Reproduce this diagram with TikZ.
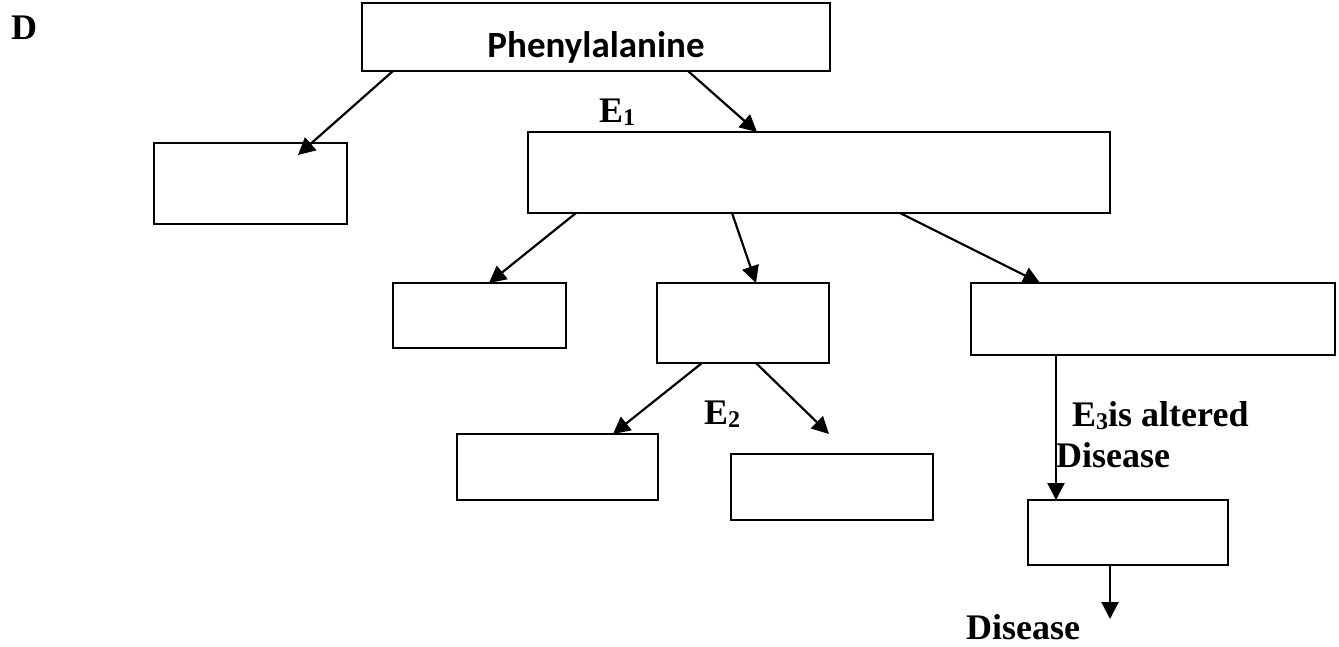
\documentclass[tikz,border=0pt]{standalone}
\usepackage{fontspec}
\setmainfont{Liberation Serif}
\newfontfamily\calib{Carlito}
\usetikzlibrary{arrows.meta}
\newcommand{\subnum}[1]{\raisebox{-3pt}{\fontsize{24}{24}\selectfont #1}}
\begin{document}
\begin{tikzpicture}[x=1pt,y=-1pt,
  emptybox/.style={draw,line width=2.2pt,minimum width=#1,inner sep=0pt,outer sep=0pt},
  conn/.style={line width=2.2pt,-{Triangle[length=17pt,width=17pt]}},
  lbl/.style={font=\fontsize{36}{40}\selectfont\bfseries,inner sep=0pt}]
\useasboundingbox (0,0) rectangle (1339,646);
\node[emptybox=468pt,minimum height=68pt] (phe) at (596,37) {};
\node[font=\calib\fontsize{37}{40}\selectfont\bfseries,inner sep=0pt] (phetext) at (596,47) {Phenylalanine};
\node[emptybox=193pt,minimum height=81pt] (left) at (250.5,183.5) {};
\node[emptybox=582pt,minimum height=81pt] (big) at (819,172.5) {};
\node[emptybox=173pt,minimum height=65pt] (A) at (479.5,315.5) {};
\node[emptybox=172pt,minimum height=80pt] (B) at (743,323) {};
\node[emptybox=364pt,minimum height=72pt] (C) at (1153,319) {};
\node[emptybox=201pt,minimum height=66pt] (EL) at (557.5,467) {};
\node[emptybox=202pt,minimum height=66pt] (ER) at (832,487) {};
\node[emptybox=200pt,minimum height=65pt] (Dbox) at (1128,532.5) {};
\coordinate (end1) at (829,434);
\coordinate (end2) at (1110,619);
\draw[conn] ([xshift=31pt]phe.south west) -- ([xshift=144pt,yshift=-12pt]left.north west);
\draw[conn] ([xshift=326pt]phe.south west) -- ([xshift=229pt]big.north west);
\draw[conn] ([xshift=48pt]big.south west) -- ([xshift=96pt]A.north west);
\draw[conn] ([xshift=204pt]big.south west) -- ([xshift=99pt]B.north west);
\draw[conn] ([xshift=372pt]big.south west) -- ([xshift=69pt]C.north west);
\draw[conn] ([xshift=45pt]B.south west) -- ([xshift=156pt]EL.north west);
\draw[conn] ([xshift=99pt]B.south west) -- (end1);
\draw[conn] ([xshift=85pt]C.south west) -- ([xshift=28pt]Dbox.north west);
\draw[conn] ([xshift=82pt]Dbox.south west) -- (end2);
\node[lbl] (d) at (24,28) {D};
\node[lbl] (e1) at (617,112) {E\subnum{1}};
\node[lbl] (e2) at (722,414) {E\subnum{2}};
\node[lbl,anchor=west] (e3) at (1072,416) {E\subnum{3}is altered};
\node[lbl,anchor=west] (dis1) at (1056,455) {Disease};
\node[lbl] (dis2) at (1023,627) {Disease};
\end{tikzpicture}
\end{document}
